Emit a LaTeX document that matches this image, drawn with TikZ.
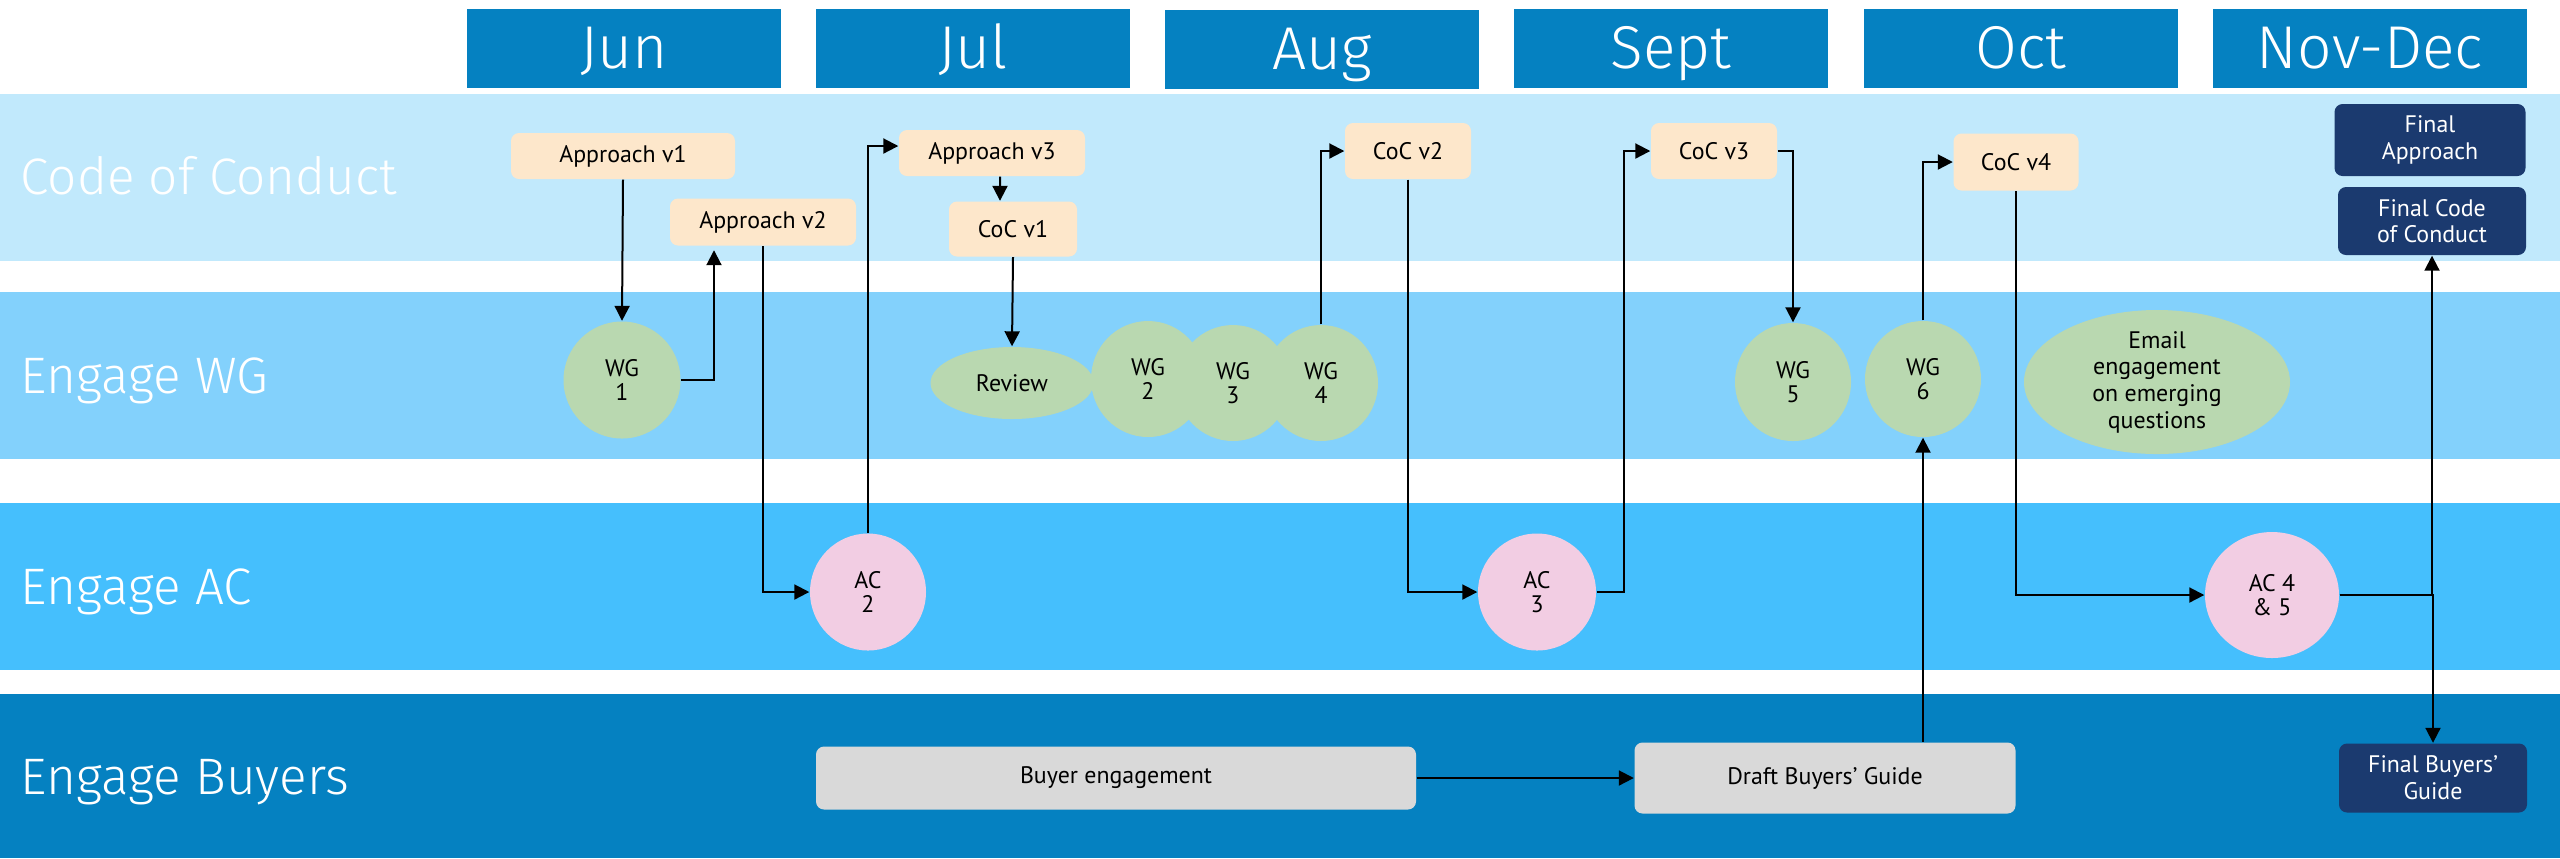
\documentclass[tikz,border=0pt]{standalone}
\usepackage{fontspec}
\setmainfont{PT Sans}
\newfontfamily\thinfont{Fira Sans Light}
\usetikzlibrary{arrows.meta,shapes.geometric}

\definecolor{hdrblue}{HTML}{0581C1}
\definecolor{lanecoc}{HTML}{C1E9FC}
\definecolor{lanewg}{HTML}{83D1FC}
\definecolor{laneac}{HTML}{45BFFD}
\definecolor{peach}{HTML}{FDE7CB}
\definecolor{wggreen}{HTML}{B9D8B0}
\definecolor{acpink}{HTML}{F2CDE3}
\definecolor{buyergrey}{HTML}{D9D9D9}
\definecolor{finalnavy}{HTML}{1B3A6F}

\tikzset{
  month/.style={fill=hdrblue, text=white, inner sep=0pt, minimum width=31.4mm, minimum height=7.9mm,
    text height=11.7pt, text depth=0pt, font=\thinfont\fontsize{17.2}{18}\selectfont},
  lanelabel/.style={anchor=base west, text=white, inner sep=0pt, font=\thinfont\fontsize{14.6}{16}\selectfont},
  doc/.style={fill=peach, rounded corners=0.8mm, inner sep=0pt, font=\fontsize{6.8}{7.6}\selectfont},
  final/.style={fill=finalnavy, text=white, rounded corners=0.8mm, inner sep=0pt, align=center,
    font=\fontsize{6.8}{7.6}\selectfont},
  buyer/.style={fill=buyergrey, rounded corners=0.8mm, inner sep=0pt, font=\fontsize{6.8}{7.6}\selectfont},
  wg/.style={ellipse, fill=wggreen, inner sep=0pt, align=center, font=\fontsize{6.8}{6.8}\selectfont},
  ac/.style={ellipse, fill=acpink, inner sep=0pt, align=center, font=\fontsize{6.8}{6.8}\selectfont},
  arr/.style={-{Triangle[length=1.5mm,width=1.5mm]}, line width=0.2mm}
}

\begin{document}
\begin{tikzpicture}[x=0.1mm,y=-0.1mm]
\useasboundingbox (0,0) rectangle (2560,858);

\fill[lanecoc] (0,94) rectangle (2560,261);
\fill[lanewg] (0,292) rectangle (2560,459);
\fill[laneac] (0,503) rectangle (2560,670);
\fill[hdrblue] (0,694) rectangle (2560,858);

\node[lanelabel] (lcoc) at (20,194) {Code of Conduct};
\node[lanelabel] (lwg) at (20,393) {Engage WG};
\node[lanelabel] (lac) at (20,604) {Engage AC};
\node[lanelabel] (lbuy) at (20,794) {Engage Buyers};

\node[month] (jun) at (624,48) {Jun};
\node[month] (jul) at (973,48) {Jul};
\node[month] (aug) at (1322,49) {Aug};
\node[month] (sep) at (1671,48) {Sept};
\node[month] (oct) at (2021,48) {Oct};
\node[month] (nov) at (2370,48) {Nov-Dec};

\node[doc, minimum width=22.4mm, minimum height=4.6mm] (av1) at (623,156) {Approach v1};
\node[doc, minimum width=18.6mm, minimum height=4.7mm] (av2) at (763,222) {Approach v2};
\node[doc, minimum width=18.6mm, minimum height=4.6mm] (av3) at (992,153) {Approach v3};
\node[doc, minimum width=12.8mm, minimum height=5.5mm] (cc1) at (1013,229) {CoC v1};
\node[doc, minimum width=12.6mm, minimum height=5.6mm] (cc2) at (1408,151) {CoC v2};
\node[doc, minimum width=12.6mm, minimum height=5.6mm] (cc3) at (1714,151) {CoC v3};
\node[doc, minimum width=12.5mm, minimum height=5.7mm] (cc4) at (2016,162) {CoC v4};
\node[final, minimum width=19.1mm, minimum height=7.2mm] (fap) at (2430,140) {Final\\Approach};
\node[final, minimum width=18.8mm, minimum height=6.8mm] (fcc) at (2432,221) {Final Code\\of Conduct};

\node[wg, minimum width=11.7mm, minimum height=11.7mm] (wg1) at (622,380) {WG\\1};
\node[wg, minimum width=16.3mm, minimum height=7.2mm] (rev) at (1012,383) {Review};
\node[wg, minimum width=11.4mm, minimum height=11.6mm] (wg2) at (1148,379) {WG\\2};
\node[wg, minimum width=11.4mm, minimum height=11.6mm] (wg3) at (1233,383) {WG\\3};
\node[wg, minimum width=11.4mm, minimum height=11.6mm] (wg4) at (1321,383) {WG\\4};
\node[wg, minimum width=11.6mm, minimum height=11.8mm] (wg5) at (1793,382) {WG\\5};
\node[wg, minimum width=11.6mm, minimum height=11.6mm] (wg6) at (1923,379) {WG\\6};
\node[wg, minimum width=26.6mm, minimum height=11.8mm, font=\fontsize{6.8}{7.6}\selectfont] (eml) at (2157,382)
  {Email\\engagement\\on emerging\\questions};

\node[ac, minimum width=11.6mm, minimum height=11.7mm] (ac2) at (868,592) {AC\\2};
\node[ac, minimum width=11.8mm, minimum height=11.7mm] (ac3) at (1537,592) {AC\\3};
\node[ac, minimum width=13.4mm, minimum height=12.6mm] (ac45) at (2272,595) {AC 4\\\& 5};

\node[buyer, minimum width=60mm, minimum height=6.3mm] (be) at (1116,778) {Buyer engagement};
\node[buyer, minimum width=38.1mm, minimum height=7.1mm] (dbg) at (1825,778) {Draft Buyers’ Guide};
\node[final, minimum width=18.8mm, minimum height=6.9mm] (fbg) at (2433,778) {Final Buyers’\\Guide};

\draw[arr] (av1.south) -- (wg1.north);
\draw[arr] (wg1.east) -| ([xshift=-4.9mm,yshift=-0.4mm]av2.south);
\draw[arr] (av2.south) |- (ac2.west);
\draw[arr] (ac2.north) |- ([yshift=0.7mm]av3.west);
\draw[arr] ([xshift=0.8mm]av3.south) -- ([xshift=-1.3mm]cc1.north);
\draw[arr] (cc1.south) -- (rev.north);
\draw[arr] (wg4.north) |- (cc2.west);
\draw[arr] (cc2.south) |- (ac3.west);
\draw[arr] (ac3.east) -- ++(27,0) |- (cc3.west);
\draw[arr] (cc3.east) -| (wg5.north);
\draw[arr] (dbg.north -| wg6.south) -- (wg6.south);
\draw[arr] (wg6.north) |- (cc4.west);
\draw[arr] (cc4.south) |- (ac45.west);
\draw[arr] (ac45.east) -| (fcc.south);
\draw[arr] (ac45.east) -| (fbg.north);
\draw[arr] (be.east) -- (dbg.west);
\end{tikzpicture}
\end{document}
